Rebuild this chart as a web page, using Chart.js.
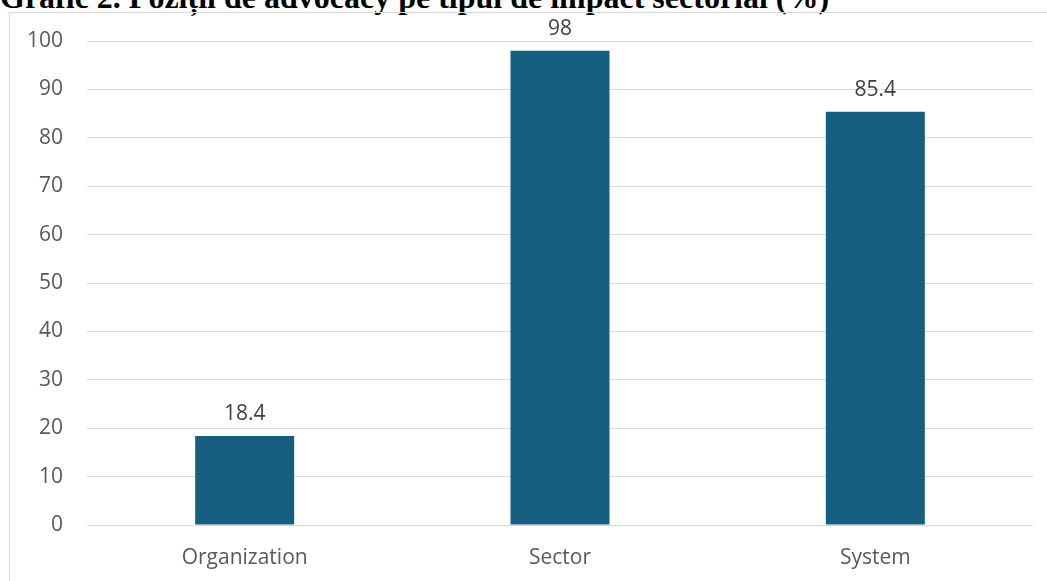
<!DOCTYPE html>
<html>
<head>
<meta charset="utf-8">
<script src="https://cdn.jsdelivr.net/npm/chart.js@4"></script>
<style>
  html, body { margin: 0; padding: 0; background: #fff; overflow: hidden; }
  #wrap { position: relative; width: 1047px; height: 581px; overflow: hidden; }
  #title {
    position: absolute; left: 0; top: -19px; white-space: nowrap;
    font: bold 32px/32px "Liberation Serif", "Times New Roman", serif; color: #000;
  }
  #frame {
    position: absolute; left: 9px; top: 12px; width: 1100px; height: 700px;
    border: 1px solid #d9d9d9; box-sizing: border-box;
  }
  #box { position: absolute; left: 0; top: 0; width: 1047px; height: 581px; }
</style>
</head>
<body>
<div id="wrap">
  <div id="title">Grafic 2. Poziții de advocacy pe tipul de impact sectorial (%)</div>
  <div id="frame"></div>
  <div id="box"><canvas id="impactChart"></canvas></div>
</div>
<script>
// categories and values
var categories = ['Organization', 'Sector', 'System'];
var shares = [18.4, 98, 85.4];
var yTicks = [0, 10, 20, 30, 40, 50, 60, 70, 80, 90, 100];

var labelFont = '"Open Sans", "Liberation Sans", sans-serif';

// writes each bar's value just above it
var valueLabels = {
    id: 'valueLabels',
    afterDatasetsDraw: function (chart) {
        var ctx = chart.ctx;
        var meta = chart.getDatasetMeta(0);
        ctx.save();
        ctx.font = '21px ' + labelFont;
        ctx.fillStyle = '#404040';
        ctx.textAlign = 'center';
        ctx.textBaseline = 'bottom';
        meta.data.forEach(function (bar, i) {
            ctx.fillText(String(shares[i]), bar.x, bar.y - 11);
        });
        ctx.restore();
    }
};

document.addEventListener("DOMContentLoaded", function () {
    var ctx = document.getElementById('impactChart').getContext('2d');
    new Chart(ctx, {
        type: 'bar',
        data: {
            labels: categories,
            datasets: [{
                data: shares,
                backgroundColor: '#175f80',
                barPercentage: 0.314,
                categoryPercentage: 1
            }]
        },
        options: {
            responsive: true,
            maintainAspectRatio: false,
            animation: false,
            layout: { padding: { top: 41, right: 14, left: 0, bottom: 0 } },
            plugins: {
                legend: { display: false },
                tooltip: { enabled: false }
            },
            scales: {
                x: {
                    grid: { display: false },
                    border: { display: false },
                    ticks: {
                        color: '#595959',
                        padding: 12,
                        font: { family: labelFont, size: 21 }
                    },
                    afterFit: function (scale) { scale.height = 56; }
                },
                y: {
                    min: 0,
                    max: 100,
                    afterBuildTicks: function (scale) {
                        scale.ticks = yTicks.map(function (v) { return { value: v }; });
                    },
                    grid: { color: '#d9d9d9', lineWidth: 1, drawTicks: false },
                    border: { display: false },
                    ticks: {
                        color: '#595959',
                        padding: 24,
                        font: { family: labelFont, size: 21 }
                    },
                    afterFit: function (scale) { scale.width = 87; }
                }
            }
        },
        plugins: [valueLabels]
    });
});
</script>
</body>
</html>
